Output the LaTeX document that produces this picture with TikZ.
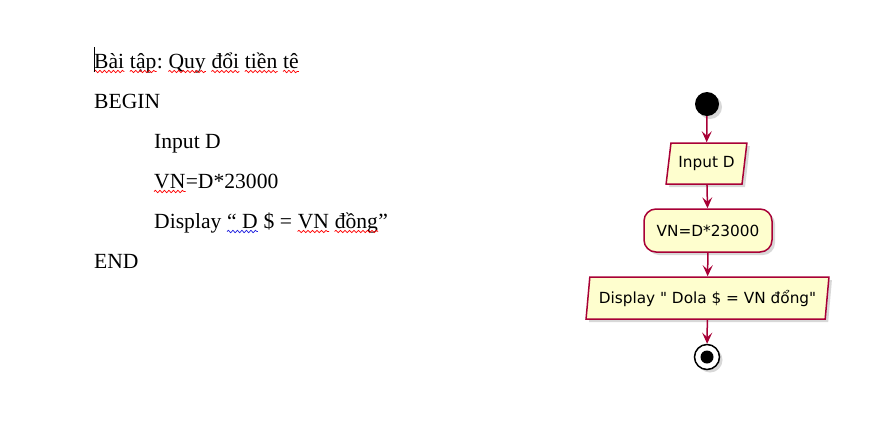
\documentclass[tikz,border=0pt]{standalone}
\usepackage{fontspec}
\setmainfont{Liberation Serif}
\newfontfamily\umlfont{DejaVu Sans}
\usetikzlibrary{shapes.geometric,arrows.meta,shadows,decorations.pathmorphing}
\definecolor{umlred}{HTML}{A80036}
\definecolor{umlfill}{HTML}{FEFECE}
\definecolor{wavered}{HTML}{FF0000}
\definecolor{waveblue}{HTML}{2020E0}
\def\gap{5.4pt}
\tikzset{
  code/.style={anchor=base west, inner sep=0pt, font=\fontsize{21.6}{25}\selectfont},
  typo/.style={draw=wavered, line width=0.7pt, decorate, decoration={snake, amplitude=1.2pt, segment length=4.5pt}},
  uml/.style={draw=umlred, line width=1.5pt, fill=umlfill, font=\umlfont\fontsize{15.3}{18}\selectfont,
    drop shadow={shadow xshift=3pt, shadow yshift=-3pt, opacity=.3}},
  iobox/.style={uml, trapezium, trapezium stretches=true, inner sep=0pt},
  actbox/.style={uml, rounded corners=12pt, minimum width=128pt, minimum height=43pt, inner sep=0pt},
  flow/.style={draw=umlred, line width=1.5pt, -{Stealth[length=11pt,width=10pt,inset=4.5pt]}}
}
\begin{document}
\begin{tikzpicture}[x=1pt,y=-1pt]
  \fill[white] (0,0) rectangle (870,421);
  \useasboundingbox (0,0) rectangle (870,421);
  % pseudo code
  \node[code] (t1) at (94,68) {Bài};
  \node[code] (t2) at ([xshift=\gap]t1.base east) {tập};
  \node[code] (t3) at (t2.base east) {:};
  \node[code] (t4) at ([xshift=\gap]t3.base east) {Quy};
  \node[code] (t5) at ([xshift=\gap]t4.base east) {đổi};
  \node[code] (t6) at ([xshift=\gap]t5.base east) {tiền};
  \node[code] (t7) at ([xshift=\gap]t6.base east) {tê};
  \node[code] (begin) at (94,108) {BEGIN};
  \node[code] (input) at (154,148) {Input D};
  \node[code] (c1) at (154,188) {VN};
  \node[code] (c2) at (c1.base east) {=D*23000};
  \node[code] (d1) at (154,228) {Display};
  \node[code] (d2) at ([xshift=\gap]d1.base east) {“ D};
  \node[code] (d3) at ([xshift=\gap]d2.base east) {\$ =};
  \node[code] (d4) at ([xshift=\gap]d3.base east) {VN};
  \node[code] (d5) at ([xshift=\gap]d4.base east) {đồng};
  \node[code] (d6) at (d5.base east) {”};
  \node[code] (end) at (94,268) {END};
  \foreach \w in {t1,t2,t4,t5,t6,t7,c1,d4,d5}
    \draw[typo] ([yshift=-3.5pt]\w.base west) -- ([yshift=-3.5pt]\w.base east);
  \draw[typo, draw=waveblue] ([yshift=-3.5pt]d2.base west) -- ([yshift=-3.5pt]d2.base east);
  \draw[line width=0.7pt] (t1.base west) ++(0,4) -- ++(0,-25);
  % flowchart
  \node[circle, fill=black, minimum size=24pt, inner sep=0pt,
    drop shadow={shadow xshift=3pt, shadow yshift=-3pt, opacity=.3}] (start) at (707,104) {};
  \node[iobox, trapezium left angle=75, trapezium right angle=105,
    minimum width=81pt, minimum height=41pt] (inp) at (706.5,163.5) {Input D};
  \node[actbox] (vn) at (708,230.5) {VN=D*23000};
  \node[iobox, trapezium left angle=78, trapezium right angle=102,
    minimum width=243pt, minimum height=42pt] (disp) at (707.5,298) {Display " Dola \$ = VN đổng"};
  \node[circle, draw=black, fill=white, line width=1.5pt, minimum size=25pt, inner sep=0pt,
    drop shadow={shadow xshift=3pt, shadow yshift=-3pt, opacity=.3}] (stop) at (707,357) {};
  \fill (stop.center) circle (6.5pt);
  \draw[flow] (start) -- (inp);
  \draw[flow] (inp) -- (vn);
  \draw[flow] (vn) -- (disp);
  \draw[flow] (disp) -- (stop);
\end{tikzpicture}
\end{document}
